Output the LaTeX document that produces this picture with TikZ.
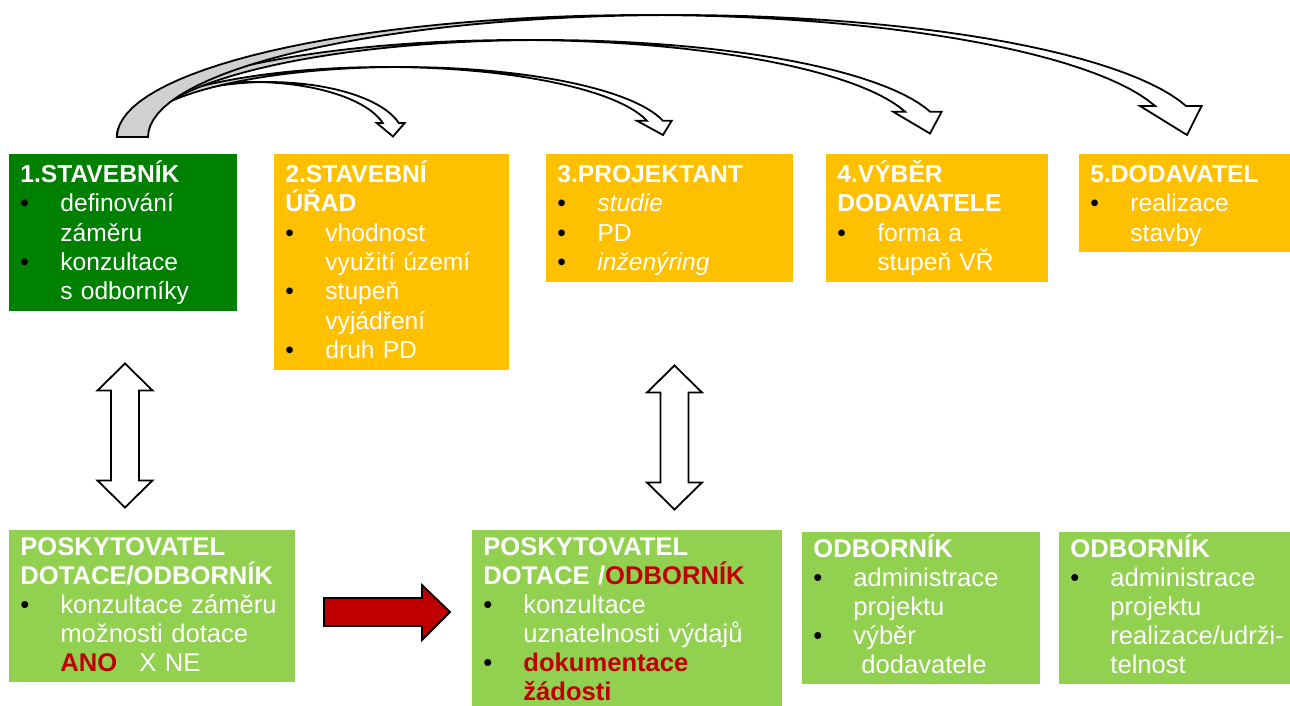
\documentclass[tikz,border=0pt]{standalone}
\usepackage{fontspec}
\setmainfont{Liberation Sans}
\usepackage{tikz}
\definecolor{dkgreen}{RGB}{0,128,0}
\definecolor{amber}{RGB}{255,192,0}
\definecolor{ltgreen}{RGB}{146,208,80}
\definecolor{darkred}{RGB}{192,0,0}
\definecolor{ribbon}{RGB}{208,208,208}
\newcommand{\itm}{\makebox[20pt][l]{\textcolor{black}{\textbullet}}}
\newcommand{\ind}{\hspace*{20pt}}
\newcommand{\hdstrut}[1]{\rule{0pt}{#1}}
\newcommand{\ftstrut}{\rule[-5.5pt]{0pt}{0pt}}

\begin{document}
\begin{tikzpicture}[x=0.5pt,y=-0.5pt,
  topbox/.style={anchor=north west,inner xsep=5.5pt,inner ysep=0pt,align=left,text=white,text width=#1,font=\fontsize{12.3}{14.7}\selectfont},
  lowbox/.style={anchor=north west,inner xsep=5.5pt,inner ysep=0pt,align=left,text=white,fill=ltgreen,text width=#1,font=\fontsize{12.8}{14.5}\selectfont},
  hollow/.style={draw=black,fill=white,line width=0.9pt,line join=miter},
  dblarrow/.pic={\filldraw[hollow] (0,-72) -- (27.5,-45) -- (14,-45) -- (14,45) -- (27.5,45) -- (0,72) -- (-27.5,45) -- (-14,45) -- (-14,-45) -- (-27.5,-45) -- cycle;}]
\useasboundingbox (0,0) rectangle (1290,706);

\foreach \cx/\a/\b/\w/\te/\ml/\mr/\tx/\ty in {252/135.2/55/16/14.8/6/6/393/136.5, 385.6/268.6/70/16/13.5/10/9/663/135, 518/401/97/25/15.1/12/11.5/930/133.5, 644.7/527.7/122/31/14.7/15/15.5/1187/135}{
  \path[save path=\rib] plot[domain=180:\te,samples=60,variable=\p] ({\cx+\a*cos(\p)},{137-\b*sin(\p)}) -- ++(-\ml,0) -- (\tx,\ty) -- ({\cx+\w+\a*cos(\te)+\mr},{137-\b*sin(\te)}) -- plot[domain=\te:180,samples=60,variable=\p] ({\cx+\w+\a*cos(\p)},{137-\b*sin(\p)}) -- cycle;
  \begin{scope}
    \clip (0,0) rectangle ({\cx+\w/2},200);
    \path[use path=\rib,fill=ribbon];
  \end{scope}
  \begin{scope}
    \clip ({\cx+\w/2},0) rectangle (1290,200);
    \path[use path=\rib,fill=white];
  \end{scope}
  \path[use path=\rib,draw=black,line width=0.9pt];
}

\node[topbox=103pt,fill=dkgreen] (b1) at (9,154) {\hdstrut{14pt}\textbf{1.STAVEBNÍK}\\\itm definování\\\ind záměru\\\itm konzultace\\\ind s odborníky\ftstrut};
\node[topbox=106.5pt,fill=amber] (b2) at (274,154) {\hdstrut{14pt}\textbf{2.STAVEBNÍ}\\\textbf{ÚŘAD}\\\itm vhodnost\\\ind využití území\\\itm stupeň\\\ind vyjádření\\\itm druh PD\ftstrut};
\node[topbox=112.5pt,fill=amber] (b3) at (546,154) {\hdstrut{14pt}\textbf{3.PROJEKTANT}\\\itm\textit{studie}\\\itm PD\\\itm\textit{inženýring}\ftstrut};
\node[topbox=100pt,fill=amber] (b4) at (826,154) {\hdstrut{14pt}\textbf{4.VÝBĚR}\\\textbf{DODAVATELE}\\\itm forma a\\\ind stupeň VŘ\ftstrut};
\node[topbox=109.5pt,fill=amber] (b5) at (1079,154) {\hdstrut{14pt}\textbf{5.DODAVATEL}\\\itm realizace\\\ind stavby\ftstrut};

\pic at (125,435.5) {dblarrow};
\pic at (674.5,437.5) {dblarrow};

\node[lowbox=132pt] (p1) at (9,530) {\hdstrut{12.5pt}\textbf{POSKYTOVATEL}\\\textbf{DOTACE/ODBORNÍK}\\\itm konzultace záměru\\\ind možnosti dotace\\\ind\textcolor{darkred}{\textbf{ANO}}\hspace{11pt}X NE\ftstrut};
\node[lowbox=144pt] (p2) at (472,530) {\hdstrut{12.5pt}\textbf{POSKYTOVATEL}\\\textbf{DOTACE /\textcolor{darkred}{ODBORNÍK}}\\\itm konzultace\\\ind uznatelnosti výdajů\\\itm\textcolor{darkred}{\textbf{dokumentace}}\\\ind\textcolor{darkred}{\textbf{žádosti}}\ftstrut};
\node[lowbox=108pt] (p3) at (802,532) {\hdstrut{12.5pt}\textbf{ODBORNÍK}\\\itm administrace\\\ind projektu\\\itm výběr\\\ind\hspace*{4pt}dodavatele\ftstrut};
\node[lowbox=119.5pt] (p4) at (1059,532) {\hdstrut{12.5pt}\textbf{ODBORNÍK}\\\itm administrace\\\ind projektu\\\ind realizace/udrži-\\\ind telnost\ftstrut};

\filldraw[fill=darkred,draw=black,line width=0.9pt] (324,598) -- (422,598) -- (422,585) -- (450,612) -- (422,640) -- (422,626) -- (324,626) -- cycle;
\end{tikzpicture}
\end{document}
